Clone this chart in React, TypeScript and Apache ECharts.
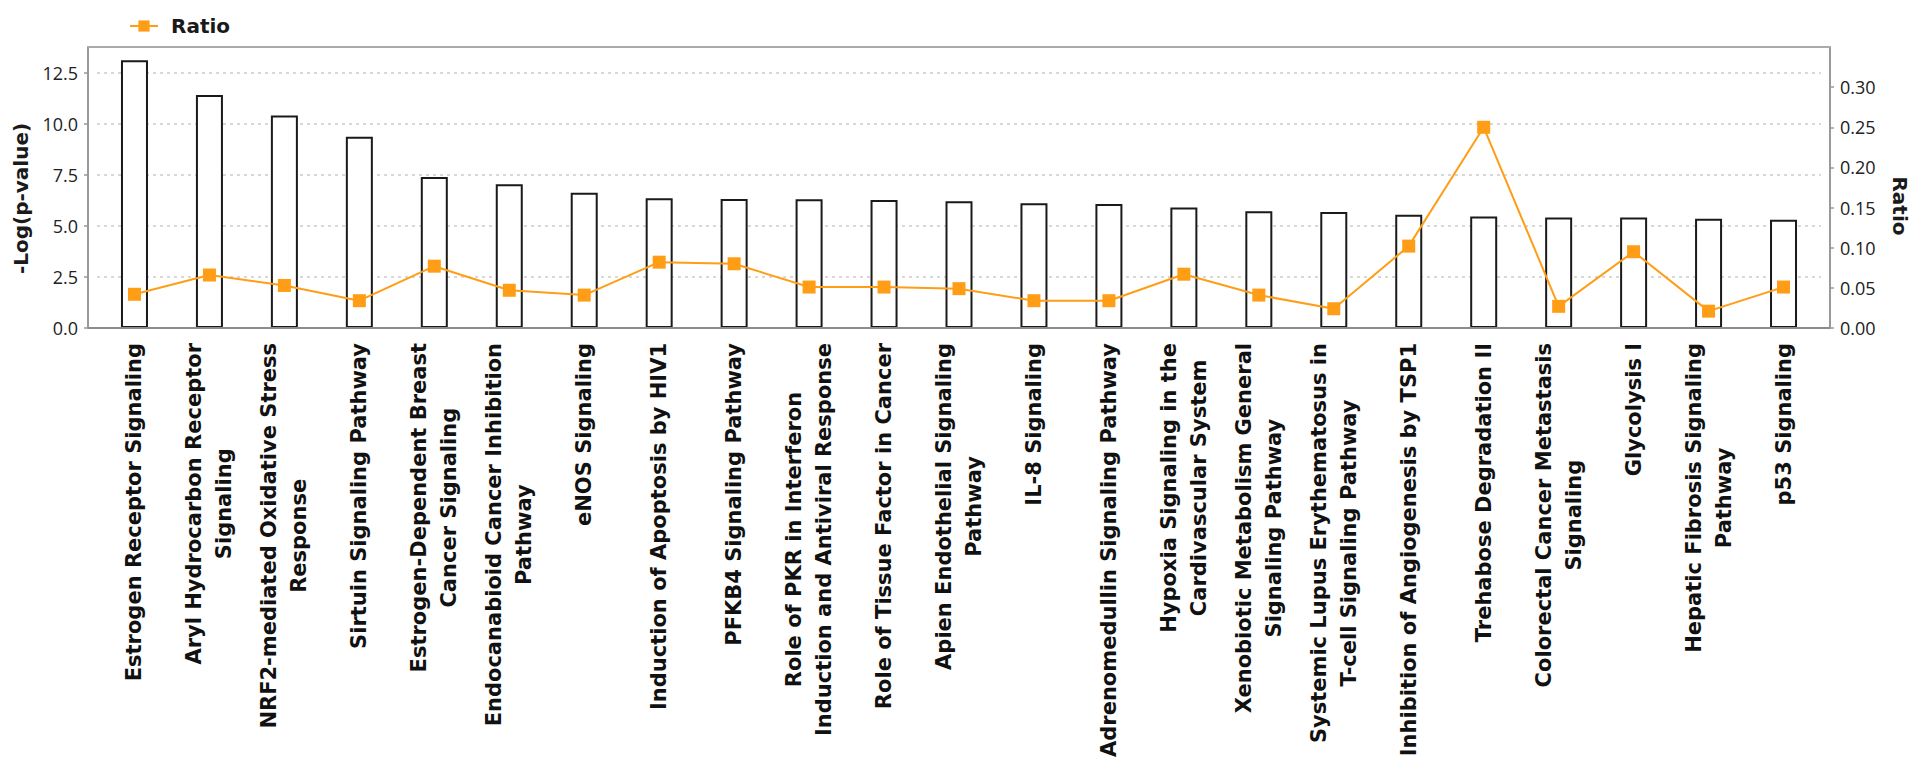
import React, { useEffect, useRef } from "react";
import * as echarts from "echarts";

const categories: string[] = [
  "Estrogen Receptor Signaling",
  "Aryl Hydrocarbon Receptor\nSignaling",
  "NRF2-mediated Oxidative Stress\nResponse",
  "Sirtuin Signaling Pathway",
  "Estrogen-Dependent Breast\nCancer Signaling",
  "Endocanabioid Cancer Inhibition\nPathway",
  "eNOS Signaling",
  "Induction of Apoptosis by HIV1",
  "PFKB4 Signaling Pathway",
  "Role of PKR in Interferon\nInduction and Antiviral Response",
  "Role of Tissue Factor in Cancer",
  "Apien Endothelial Signaling\nPathway",
  "IL-8 Signaling",
  "Adrenomedullin Signaling Pathway",
  "Hypoxia Signaling in the\nCardivascular System",
  "Xenobiotic Metabolism General\nSignaling Pathway",
  "Systemic Lupus Erythematosus in\nT-cell Signaling Pathway",
  "Inhibition of Angiogenesis by TSP1",
  "Trehabose Degradation II",
  "Colorectal Cancer Metastasis\nSignaling",
  "Glycolysis I",
  "Hepatic Fibrosis Signaling\nPathway",
  "p53 Signaling",
];

const logPValues: number[] = [
  13.12, 11.42, 10.41, 9.37, 7.4, 7.04, 6.63, 6.36, 6.32, 6.31, 6.27, 6.21,
  6.11, 6.08, 5.9, 5.72, 5.68, 5.55, 5.46, 5.41, 5.41, 5.35, 5.31,
];

const ratioValues: number[] = [
  0.042, 0.066, 0.053, 0.034, 0.077, 0.047, 0.041, 0.082, 0.08, 0.051, 0.051,
  0.049, 0.034, 0.034, 0.067, 0.041, 0.024, 0.102, 0.25, 0.027, 0.095, 0.021,
  0.051,
];

const leftAxisName = "-Log(p-value)";
const rightAxisName = "Ratio";
const lineSeriesName = "Ratio";

const FONT = "'Open Sans', 'Noto Sans', sans-serif";
const BOLD_FONT = "'DejaVu Sans', 'Open Sans', sans-serif";
const ORANGE = "#FF9D16";

export default function App() {
  const ref = useRef<HTMLDivElement>(null);

  useEffect(() => {
    if (!ref.current) return;
    const chart = echarts.init(ref.current, undefined, { renderer: "svg" });

    const gridTop = 47;
    const gridBottomY = 328;
    const frameLeft = 88;
    const frameRight = 1830;

    chart.setOption({
      animation: false,
      backgroundColor: "#ffffff",
      textStyle: { fontFamily: FONT },
      legend: {
        data: [lineSeriesName],
        left: 124,
        top: 11,
        itemWidth: 28,
        itemHeight: 14,
        textStyle: {
          fontFamily: BOLD_FONT,
          fontSize: 20,
          fontWeight: "bold",
          color: "#1a1a1a",
          padding: [0, 0, 0, 8],
        },
      },
      grid: {
        left: 97,
        right: 99,
        top: gridTop,
        bottom: 766 - gridBottomY,
        containLabel: false,
      },
      graphic: [
        {
          type: "line",
          z: 100,
          shape: { x1: frameLeft, y1: gridTop, x2: frameRight, y2: gridTop },
          style: { stroke: "#aaaaaa", lineWidth: 2 },
        },
        {
          type: "line",
          z: 100,
          shape: { x1: frameLeft, y1: gridBottomY, x2: frameRight, y2: gridBottomY },
          style: { stroke: "#8c8c8c", lineWidth: 2 },
        },
      ],
      xAxis: {
        type: "category",
        data: categories,
        axisLine: { show: false },
        axisTick: { show: false },
        axisLabel: {
          interval: 0,
          rotate: 90,
          margin: 15,
          formatter: (v: string) =>
            v
              .split("\n")
              .map((l) => `{c|${l}}`)
              .join("\n"),
          rich: {
            c: {
              align: "center",
              fontFamily: BOLD_FONT,
              fontSize: 21,
              fontWeight: "bold",
              lineHeight: 30,
              color: "#111111",
            },
          },
        },
      },
      yAxis: [
        {
          type: "value",
          min: 0,
          max: 13.77,
          interval: 2.5,
          offset: 9,
          position: "left",
          name: leftAxisName,
          nameLocation: "middle",
          nameGap: 50,
          nameTextStyle: {
            fontFamily: BOLD_FONT,
            fontSize: 20,
            fontWeight: "bold",
            color: "#1a1a1a",
            padding: [0, 22, 0, 0],
          },
          axisLine: { show: true, lineStyle: { color: "#999999", width: 2 } },
          axisTick: { show: true, length: 4, lineStyle: { color: "#999999", width: 1.5 } },
          axisLabel: {
            showMaxLabel: false,
            margin: 10,
            fontFamily: FONT,
            fontSize: 18,
            color: "#222222",
            formatter: (v: number) => v.toFixed(1),
          },
          splitLine: {
            show: true,
            lineStyle: { color: "#cccccc", width: 1.5, type: [3, 4] },
          },
        },
        {
          type: "value",
          min: 0,
          max: 0.35,
          interval: 0.05,
          offset: 9,
          position: "right",
          name: rightAxisName,
          nameLocation: "middle",
          nameGap: 60,
          nameRotate: -90,
          nameTextStyle: {
            fontFamily: BOLD_FONT,
            fontSize: 20,
            fontWeight: "bold",
            color: "#1a1a1a",
            padding: [0, 0, 0, 37],
          },
          axisLine: { show: true, lineStyle: { color: "#999999", width: 2 } },
          axisTick: { show: true, length: 4, lineStyle: { color: "#999999", width: 1.5 } },
          axisLabel: {
            showMaxLabel: false,
            margin: 10,
            fontFamily: FONT,
            fontSize: 18,
            color: "#222222",
            formatter: (v: number) => v.toFixed(2),
          },
          splitLine: { show: false },
        },
      ],
      series: [
        {
          type: "bar",
          name: "-Log(p-value)",
          yAxisIndex: 0,
          data: logPValues,
          barWidth: 27,
          itemStyle: {
            color: "#ffffff",
            borderColor: "#1a1a1a",
            borderWidth: 2,
          },
        },
        {
          type: "line",
          name: lineSeriesName,
          yAxisIndex: 1,
          data: ratioValues,
          symbol: "rect",
          symbolSize: 13,
          z: 5,
          lineStyle: { color: ORANGE, width: 2 },
          itemStyle: { color: ORANGE },
        },
      ],
    });

    return () => {
      chart.dispose();
    };
  }, []);

  return (
    <div
      ref={ref}
      style={{ position: "absolute", left: 0, top: 0, width: 1920, height: 766 }}
    />
  );
}
